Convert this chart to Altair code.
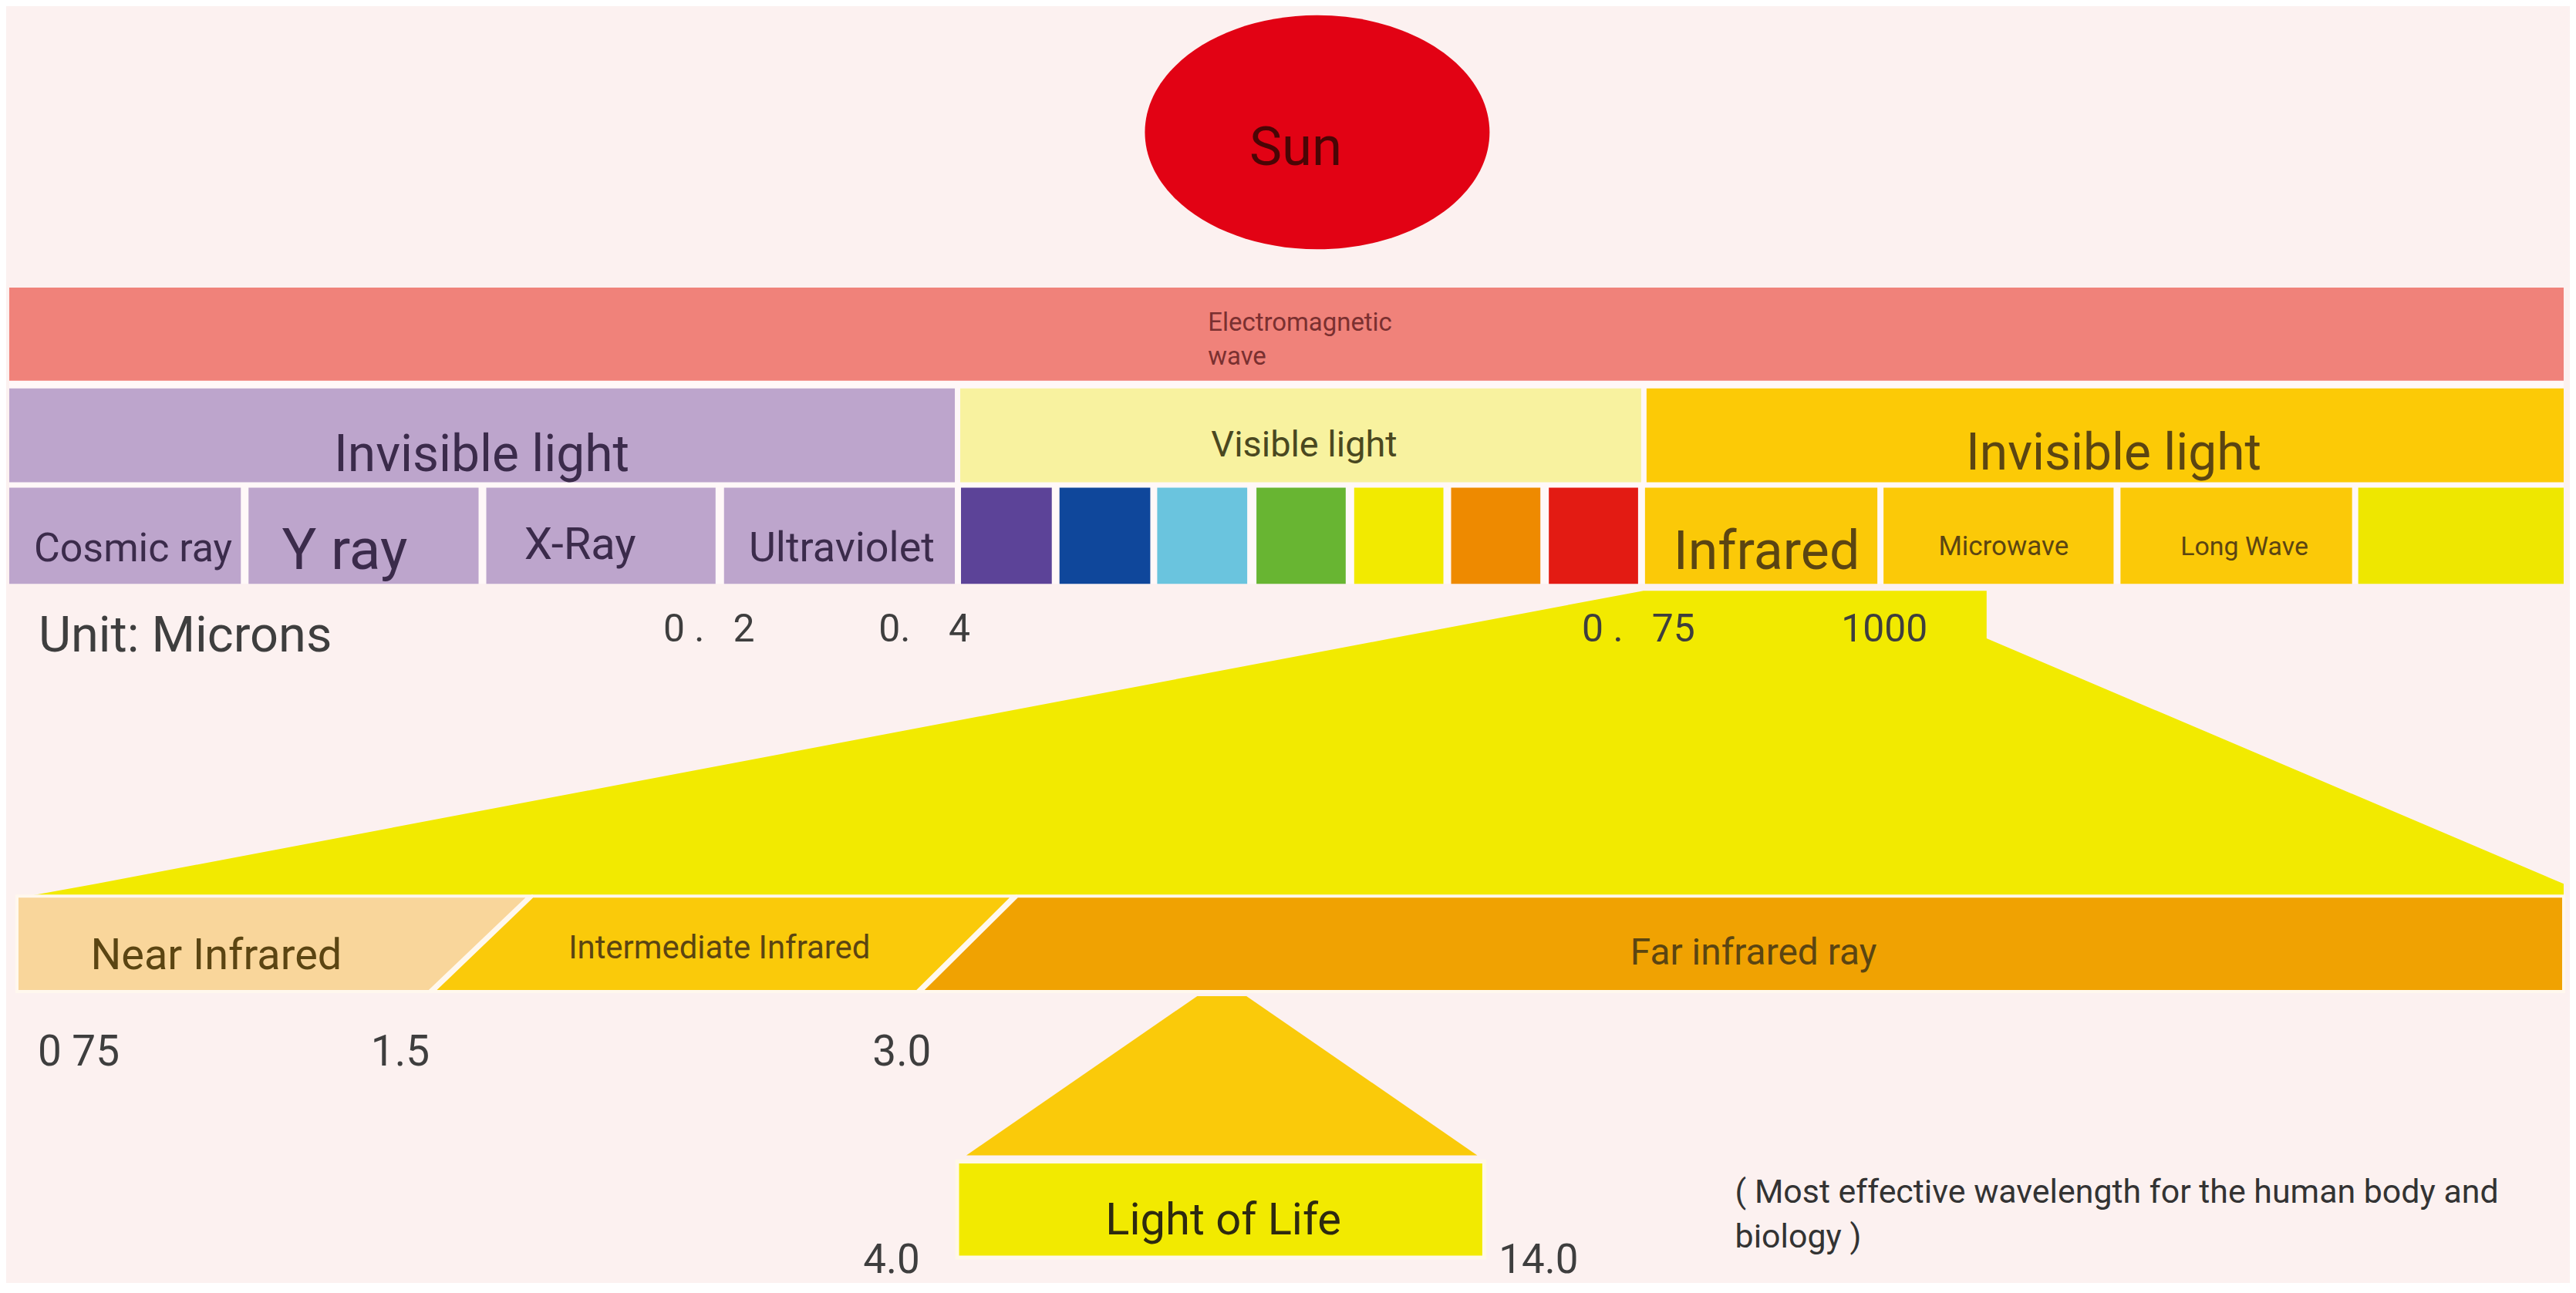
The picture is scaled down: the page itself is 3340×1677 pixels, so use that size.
import altair as alt
import pandas as pd

FONT = "Roboto"
BG = "#FCF1F0"

# ---------------- content ----------------
sun_label = "Sun"
em_lines = ["Electromagnetic", "wave"]
group_labels = ["Invisible light", "Visible light", "Invisible light"]
group_colors = ["#BDA5CC", "#F8F29F", "#FCCA06"]
uv_labels = ["Cosmic ray", "Y ray", "X-Ray", "Ultraviolet"]
uv_color = "#BDA5CC"
visible_colors = ["#5C4398", "#0F479B", "#6AC4DE", "#68B532", "#F2EA00", "#EE8A00", "#E31B13"]
ir_labels = ["Infrared", "Microwave", "Long Wave"]
ir_colors = ["#FBC908", "#FBC908", "#FBC908", "#EEE700"]
scale_labels = ["0\u00a0.\u00a0\u00a0\u00a02", "0.\u00a0\u00a0\u00a0\u00a04", "0\u00a0.\u00a0\u00a0\u00a075", "1000"]
unit_label = "Unit: Microns"
ir_parts = ["Near Infrared", "Intermediate Infrared", "Far infrared ray"]
ir_part_colors = ["#F9D69B", "#FACA0A", "#F0A202"]
ir_ticks = ["0 75", "1.5", "3.0"]
life_label = "Light of Life"
life_ticks = ["4.0", "14.0"]
note_lines = ["( Most effective wavelength for the human body and", "biology )"]

# ---------------- layout (page pixels) ----------------
W, H = 3324, 1650
xs = alt.Scale(domain=[8, 8 + W], nice=False, zero=False)
ys = alt.Scale(domain=[8, 8 + H], nice=False, zero=False, reverse=True)
R = 3332

group_edges = [(12, 1241), (1248, 2133), (2140, R)]
uv_edges = [(12, 313), (323, 622), (632, 930), (941, 1241)]
vis_edges = [(1249, 1367), (1377, 1495), (1504, 1621), (1633, 1749),
             (1760, 1876), (1886, 2002), (2013, 2129)]
ir_edges = [(2138, 2440), (2448, 2747), (2756, 3057), (3065, R)]

rects = []
rects.append(dict(x1=12, x2=R, y1=493, y2=757, c="#FFF8F8"))
rects.append(dict(x1=12, x2=R, y1=372, y2=493, c="#F0827A"))
for (a, b), c in zip(group_edges, group_colors):
    rects.append(dict(x1=a, x2=b, y1=503, y2=625, c=c))
for (a, b) in uv_edges:
    rects.append(dict(x1=a, x2=b, y1=632, y2=757, c=uv_color))
for (a, b), c in zip(vis_edges, visible_colors):
    rects.append(dict(x1=a, x2=b, y1=632, y2=757, c=c))
for (a, b), c in zip(ir_edges, ir_colors):
    rects.append(dict(x1=a, x2=b, y1=632, y2=757, c=c))
rect_df = pd.DataFrame(rects)

# zoom funnel (horizontal area: for each y, left and right x)
funnel = pd.DataFrame(dict(
    g=["f"] * 4, c=["#F2EA00"] * 4,
    y=[766, 828, 1147, 1166],
    xa=[2136, 1808, 125, 20],
    xb=[2582, 2582, R, R]))

parts = []
top_edges = [(22, 688), (692, 1317), (1322, R)]
bot_edges = [(22, 558), (563, 1192), (1197, R)]
for i, c in enumerate(ir_part_colors):
    parts.append(dict(g=f"p{i}", c=c, y=1163, xa=top_edges[i][0], xb=top_edges[i][1]))
    parts.append(dict(g=f"p{i}", c=c, y=1287, xa=bot_edges[i][0], xb=bot_edges[i][1]))
parts_df = pd.DataFrame(parts)

tri_df = pd.DataFrame(dict(g=["t", "t"], c=["#FACA0A"] * 2, y=[1293, 1500],
                           xa=[1556, 1256], xb=[1620, 1920]))
life_df = pd.DataFrame([dict(x1=1244, x2=1929, y1=1508, y2=1633, c="#F2EA00")])

sun_df = pd.DataFrame([dict(x=1712, y=170)])
ell = 0.679
k = 0.552
sun_path = (f"M -1 0 C -1 {-k*ell:.3f} {-k} {-ell} 0 {-ell} "
            f"C {k} {-ell} 1 {-k*ell:.3f} 1 0 "
            f"C 1 {k*ell:.3f} {k} {ell} 0 {ell} "
            f"C {-k} {ell} -1 {k*ell:.3f} -1 0 Z")

PURP_T = "#3B2B4B"
YEL_T = "#5B4512"
GRAY_T = "#3E3E3E"

center_txt = [
    dict(x=1684, y=213, t=sun_label, s=71, c="#4A0505"),
    dict(x=626, y=610, t=group_labels[0], s=66, c=PURP_T),
    dict(x=1695, y=591, t=group_labels[1], s=47, c="#4A4820"),
    dict(x=2747, y=608, t=group_labels[2], s=66, c=YEL_T),
]
uv_pos = [(173, 728, 52), (448, 738, 75), (754, 725, 58), (1094, 728, 54)]
for lab, (x, y, s) in zip(uv_labels, uv_pos):
    center_txt.append(dict(x=x, y=y, t=lab, s=s, c=PURP_T))
ir_pos = [(2296, 738, 70), (2604, 720, 35), (2917, 720, 34)]
for lab, (x, y, s) in zip(ir_labels, ir_pos):
    center_txt.append(dict(x=x, y=y, t=lab, s=s, c=YEL_T))
part_pos = [(281, 1258, 56), (935, 1244, 42), (2279, 1252, 48)]
for lab, (x, y, s) in zip(ir_parts, part_pos):
    center_txt.append(dict(x=x, y=y, t=lab, s=s, c=YEL_T))
center_txt.append(dict(x=1590, y=1603, t=life_label, s=58, c="#2E2A10"))
center_df = pd.DataFrame(center_txt)

left_txt = [
    dict(x=1570, y=428, t=em_lines[0], s=33, c="#7A3030"),
    dict(x=1570, y=472, t=em_lines[1], s=33, c="#7A3030"),
    dict(x=50, y=845, t=unit_label, s=65, c=GRAY_T),
]
for lab, x in zip(scale_labels, [862, 1142, 2056, 2393]):
    left_txt.append(dict(x=x, y=832, t=lab, s=50, c=GRAY_T))
for lab, x in zip(ir_ticks, [49, 482, 1134]):
    left_txt.append(dict(x=x, y=1383, t=lab, s=55, c=GRAY_T))
for lab, x in zip(life_ticks, [1122, 1948]):
    left_txt.append(dict(x=x, y=1653, t=lab, s=53, c=GRAY_T))
for lab, y in zip(note_lines, [1562, 1620]):
    left_txt.append(dict(x=2255, y=y, t=lab, s=43, c="#333333"))
left_df = pd.DataFrame(left_txt)

# ---------------- chart ----------------
def rect_layer(df, **kw):
    return alt.Chart(df).mark_rect(**kw).encode(
        x=alt.X("x1:Q", scale=xs, axis=None),
        x2="x2:Q",
        y=alt.Y("y1:Q", scale=ys, axis=None),
        y2="y2:Q",
        color=alt.Color("c:N", scale=None),
    )

def poly_layer(df, **kw):
    return alt.Chart(df).mark_area(orient="horizontal", **kw).encode(
        y=alt.Y("y:Q", scale=ys, axis=None),
        x=alt.X("xa:Q", scale=xs, axis=None, stack=None),
        x2="xb:Q",
        detail="g:N",
        color=alt.Color("c:N", scale=None),
    )

def text_layer(df, align):
    return alt.Chart(df).mark_text(align=align, baseline="alphabetic", font=FONT).encode(
        x=alt.X("x:Q", scale=xs, axis=None),
        y=alt.Y("y:Q", scale=ys, axis=None),
        text="t:N",
        size=alt.Size("s:Q", scale=None),
        color=alt.Color("c:N", scale=None),
    )

sun = alt.Chart(sun_df).mark_point(shape=sun_path, filled=True, size=448 ** 2,
                                   color="#E20214", opacity=1).encode(
    x=alt.X("x:Q", scale=xs, axis=None),
    y=alt.Y("y:Q", scale=ys, axis=None),
)

chart = alt.layer(
    rect_layer(rect_df),
    poly_layer(funnel),
    poly_layer(parts_df, stroke="#FFF8EE", strokeWidth=4),
    poly_layer(tri_df),
    rect_layer(life_df, stroke="#FFF8E8", strokeWidth=5),
    sun,
    text_layer(center_df, "center"),
    text_layer(left_df, "left"),
).properties(
    width=W, height=H, background=BG, padding=0
).configure_view(stroke=None)

chart.save("out.html", embed_options={"renderer": "svg", "actions": False})
